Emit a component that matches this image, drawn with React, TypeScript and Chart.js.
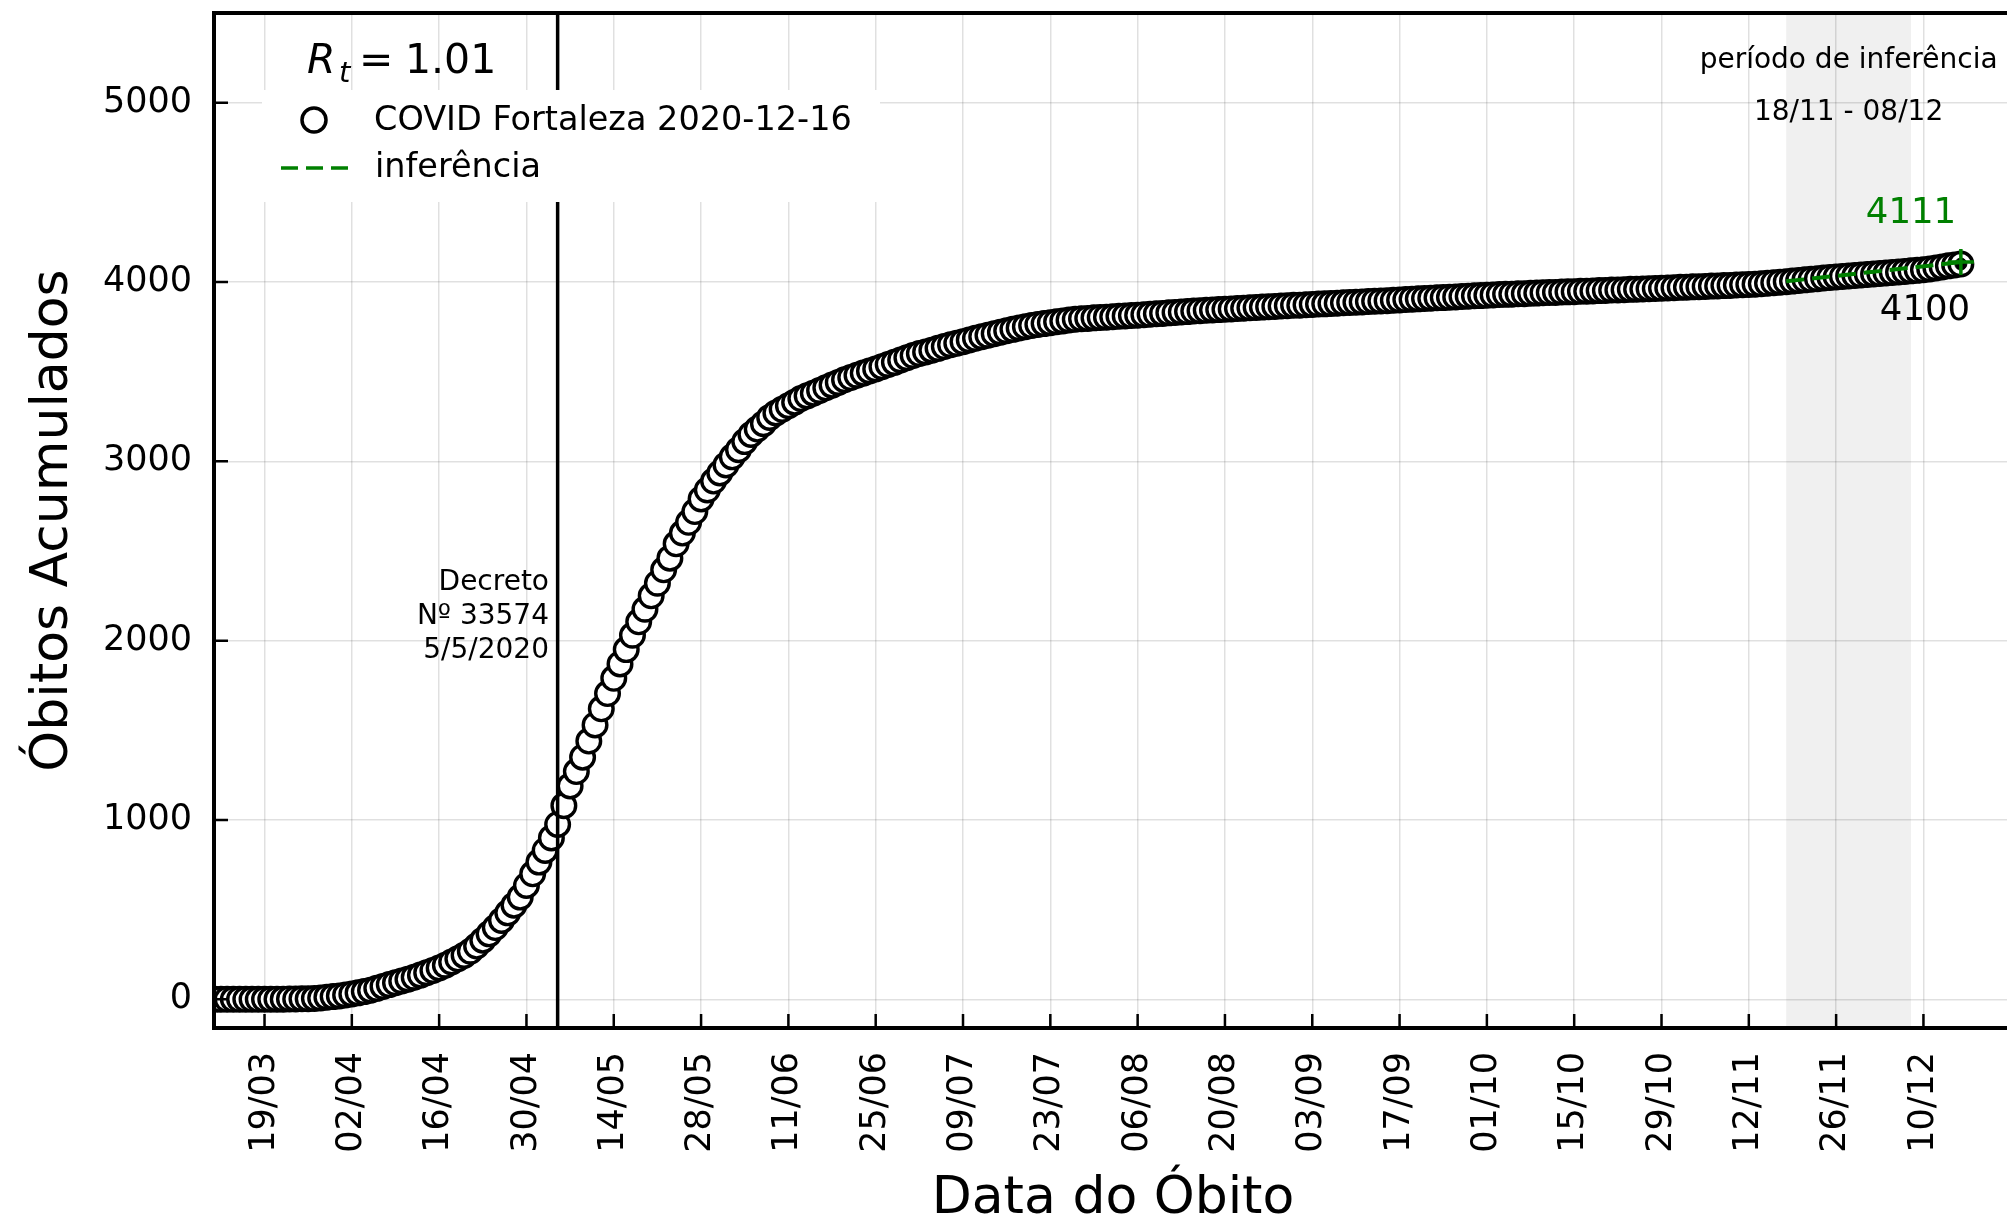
import React, { useEffect, useRef } from 'react';
import { Chart, registerables } from 'chart.js';

Chart.register(...registerables);

// Days are counted from 19/03/2020 (day 0)
const FIRST_DAY = -8;
const obitos: number[] = [
  0, 0, 0, 0, 0, 0, 0, 0,
  0, 0, 1, 1, 2, 2, 3, 3, 5, 7,
  12, 15, 19, 24, 30, 36, 43, 51, 61, 72,
  82, 92, 102, 112, 123, 135, 148, 161, 175, 190,
  208, 226, 245, 268, 297, 330, 365, 400, 440, 482,
  525, 570, 635, 700, 765, 830, 900, 975, 1080, 1190,
  1270, 1350, 1440, 1530, 1620, 1705, 1790, 1870, 1950, 2030,
  2105, 2175, 2250, 2320, 2395, 2460, 2540, 2600, 2660, 2720,
  2790, 2840, 2890, 2935, 2980, 3025, 3065, 3110, 3150, 3180,
  3210, 3245, 3270, 3290, 3310, 3330, 3350, 3365, 3380, 3395,
  3410, 3425, 3440, 3455, 3467, 3480, 3492, 3504, 3515, 3528,
  3540, 3552, 3565, 3578, 3590, 3601, 3610, 3620, 3630, 3640,
  3650, 3658, 3667, 3677, 3686, 3695, 3703, 3712, 3720, 3728,
  3736, 3744, 3751, 3757, 3763, 3768, 3773, 3778, 3783, 3788,
  3792, 3795, 3797, 3800, 3802, 3804, 3806, 3809, 3811, 3813,
  3815, 3818, 3820, 3823, 3825, 3828, 3830, 3833, 3835, 3838,
  3840, 3842, 3844, 3846, 3848, 3850, 3852, 3854, 3856, 3858,
  3860, 3862, 3864, 3866, 3868, 3870, 3871, 3873, 3875, 3877,
  3878, 3880, 3882, 3884, 3886, 3887, 3889, 3891, 3893, 3894,
  3896, 3898, 3900, 3902, 3904, 3906, 3908, 3910, 3912, 3913,
  3915, 3917, 3919, 3921, 3923, 3924, 3926, 3928, 3930, 3931,
  3932, 3934, 3935, 3937, 3938, 3940, 3941, 3942, 3944, 3945,
  3946, 3948, 3949, 3950, 3952, 3953, 3955, 3956, 3957, 3959,
  3960, 3961, 3963, 3964, 3965, 3967, 3968, 3970, 3971, 3973,
  3974, 3975, 3977, 3978, 3980, 3981, 3983, 3985, 3986, 3988,
  3990, 3993, 3996, 3999, 4002, 4005, 4009, 4012, 4015, 4018,
  4022, 4025, 4028, 4031, 4034, 4036, 4039, 4042, 4045, 4048,
  4050, 4053, 4056, 4059, 4062, 4065, 4068, 4073, 4078, 4084,
  4090, 4095, 4100,
];

const inferenceDays = [244, 251, 258, 265, 272];
const inferenceValues = [4004, 4030, 4057, 4084, 4111];

const lastDay = 272;
const lastValue = 4100;
const lastInference = 4111;

const tickDays = [0, 14, 28, 42, 56, 70, 84, 98, 112, 126, 140, 154, 168, 182, 196, 210, 224, 238, 252, 266];
const tickLabels = ['19/03', '02/04', '16/04', '30/04', '14/05', '28/05', '11/06', '25/06', '09/07', '23/07',
  '06/08', '20/08', '03/09', '17/09', '01/10', '15/10', '29/10', '12/11', '26/11', '10/12'];
const yTicks = [0, 1000, 2000, 3000, 4000, 5000];

const decreeDay = 47; // 05/05
const shadeStart = 244; // 18/11
const shadeEnd = 264; // 08/12

const X_MIN = -8.1;
const X_MAX = 280.2;
const Y_MIN = -160;
const Y_MAX = 5500;

const FONT = '"DejaVu Sans", "Noto Sans", sans-serif';

const overlayPlugin = {
  id: 'overlay',
  beforeDraw(chart: any) {
    const { ctx, chartArea: a, scales } = chart;
    const x = scales.x;
    ctx.save();
    const x0 = x.getPixelForValue(shadeStart);
    const x1 = x.getPixelForValue(shadeEnd);
    ctx.fillStyle = '#f0f0f0';
    ctx.fillRect(x0, a.top, x1 - x0, a.bottom - a.top);
    ctx.restore();
  },
  afterDatasetsDraw(chart: any) {
    const { ctx, chartArea: a, scales } = chart;
    const x = scales.x;
    const y = scales.y;
    ctx.save();

    // decree line
    const xd = x.getPixelForValue(decreeDay);
    ctx.strokeStyle = '#000';
    ctx.lineWidth = 3.5;
    ctx.beginPath();
    ctx.moveTo(xd, a.top);
    ctx.lineTo(xd, a.bottom);
    ctx.stroke();

    // spines
    ctx.lineWidth = 4;
    ctx.beginPath();
    ctx.moveTo(a.left, a.top);
    ctx.lineTo(a.right + 5, a.top);
    ctx.moveTo(a.left, a.top - 2);
    ctx.lineTo(a.left, a.bottom + 2);
    ctx.moveTo(a.left, a.bottom);
    ctx.lineTo(a.right + 5, a.bottom);
    ctx.stroke();

    // inward ticks
    ctx.lineWidth = 2.5;
    ctx.beginPath();
    tickDays.forEach((d) => {
      const px = x.getPixelForValue(d);
      ctx.moveTo(px, a.bottom);
      ctx.lineTo(px, a.bottom - 14);
    });
    yTicks.forEach((v) => {
      const py = y.getPixelForValue(v);
      ctx.moveTo(a.left, py);
      ctx.lineTo(a.left + 14, py);
    });
    ctx.stroke();

    // legend box
    ctx.fillStyle = '#fff';
    ctx.fillRect(262, 90, 618, 112);
    // legend marker
    ctx.beginPath();
    ctx.arc(314, 120, 12, 0, Math.PI * 2);
    ctx.fillStyle = '#fff';
    ctx.fill();
    ctx.lineWidth = 3.5;
    ctx.strokeStyle = '#000';
    ctx.stroke();
    // legend dashed line
    ctx.setLineDash([17, 8]);
    ctx.strokeStyle = 'green';
    ctx.lineWidth = 3.5;
    ctx.beginPath();
    ctx.moveTo(281, 168);
    ctx.lineTo(348, 168);
    ctx.stroke();
    ctx.setLineDash([]);
    ctx.fillStyle = '#000';
    ctx.font = `33.5px ${FONT}`;
    ctx.textAlign = 'left';
    ctx.textBaseline = 'middle';
    ctx.fillText('COVID Fortaleza 2020-12-16', 374, 121);
    ctx.fillText('inferência', 375, 168);

    // R_t text
    ctx.textBaseline = 'alphabetic';
    ctx.font = `italic 41px ${FONT}`;
    ctx.fillText('R', 307, 73);
    ctx.font = `italic 29px ${FONT}`;
    ctx.fillText('t', 339, 82);
    ctx.font = `41px ${FONT}`;
    ctx.fillText('=', 359, 73);
    ctx.fillText('1.01', 405, 73);

    // decree annotation
    ctx.font = `28px ${FONT}`;
    ctx.textAlign = 'right';
    ctx.fillText('Decreto', 549, 590);
    ctx.fillText('Nº 33574', 549, 624);
    ctx.fillText('5/5/2020', 549, 658);

    // inference period
    const xc = (x.getPixelForValue(shadeStart) + x.getPixelForValue(shadeEnd)) / 2;
    ctx.textAlign = 'center';
    ctx.fillText('período de inferência', xc, 68);
    ctx.fillText('18/11 - 08/12', xc, 120);

    // end values
    ctx.font = `35.5px ${FONT}`;
    ctx.fillStyle = 'green';
    ctx.fillText(String(lastInference), 1911, 223);
    ctx.fillStyle = '#000';
    ctx.fillText(String(lastValue), 1925, 320);

    // axis titles
    ctx.font = `52px ${FONT}`;
    ctx.textAlign = 'center';
    ctx.fillText('Data do Óbito', 1113, 1213);
    ctx.save();
    ctx.translate(67, (a.top + a.bottom) / 2);
    ctx.rotate(-Math.PI / 2);
    ctx.fillText('Óbitos Acumulados', 0, 0);
    ctx.restore();

    ctx.restore();
  },
};

export default function App() {
  const ref = useRef<HTMLCanvasElement>(null);
  useEffect(() => {
    document.body.style.margin = '0';
    const canvas = ref.current;
    if (!canvas) return;
    const dataPts = obitos.map((v, i) => ({ x: FIRST_DAY + i, y: v }));
    const infPts = inferenceDays.map((d, i) => ({ x: d, y: inferenceValues[i] }));
    const chart = new Chart(canvas, {
      type: 'scatter',
      data: {
        datasets: [
          {
            label: 'cross',
            data: [{ x: lastDay, y: lastInference }],
            pointStyle: 'cross',
            pointRadius: 13,
            borderColor: 'green',
            borderWidth: 3.5,
            order: 0,
          } as any,
          {
            label: 'inferência',
            data: infPts,
            showLine: true,
            borderColor: 'green',
            borderWidth: 4,
            borderDash: [18, 8],
            pointRadius: 0,
            order: 1,
          } as any,
          {
            label: 'last',
            data: [{ x: lastDay, y: lastValue }],
            pointStyle: 'circle',
            pointRadius: 6,
            backgroundColor: '#000',
            borderColor: '#000',
            borderWidth: 1,
            order: 2,
          } as any,
          {
            label: 'COVID Fortaleza 2020-12-16',
            data: dataPts,
            showLine: false,
            pointStyle: 'circle',
            pointRadius: 11.8,
            backgroundColor: '#fff',
            borderColor: '#000',
            borderWidth: 3.4,
            order: 3,
            clip: 0,
          } as any,
        ],
      },
      options: {
        responsive: false,
        animation: false,
        devicePixelRatio: 1,
        layout: { autoPadding: false, padding: { top: 13, right: 4, left: 0, bottom: 0 } },
        plugins: {
          legend: { display: false },
          tooltip: { enabled: false },
        },
        scales: {
          x: {
            type: 'linear',
            min: X_MIN,
            max: X_MAX,
            afterBuildTicks: (scale: any) => {
              scale.ticks = tickDays.map((d) => ({ value: d }));
            },
            afterFit: (scale: any) => {
              scale.height = 192;
              scale.paddingLeft = 0;
              scale.paddingRight = 0;
              scale.paddingTop = 0;
              scale.paddingBottom = 0;
            },
            grid: {
              color: 'rgba(0,0,0,0.12)',
              lineWidth: 1.5,
              drawTicks: false,
            },
            border: { display: false },
            ticks: {
              autoSkip: false,
              minRotation: 90,
              maxRotation: 90,
              padding: 24,
              color: '#000',
              font: { family: FONT, size: 35 },
              callback: (v: any) => {
                const idx = tickDays.indexOf(Number(v));
                return idx >= 0 ? tickLabels[idx] : '';
              },
            },
          },
          y: {
            type: 'linear',
            min: Y_MIN,
            max: Y_MAX,
            afterBuildTicks: (scale: any) => {
              scale.ticks = yTicks.map((v) => ({ value: v }));
            },
            afterFit: (scale: any) => {
              scale.width = 214;
              scale.paddingLeft = 0;
              scale.paddingRight = 0;
              scale.paddingTop = 0;
              scale.paddingBottom = 0;
            },
            grid: {
              color: 'rgba(0,0,0,0.12)',
              lineWidth: 1.5,
              drawTicks: false,
            },
            border: { display: false },
            ticks: {
              padding: 22,
              color: '#000',
              font: { family: FONT, size: 35 },
              callback: (v: any) => String(v),
            },
          },
        },
      },
      plugins: [overlayPlugin],
    });
    return () => chart.destroy();
  }, []);
  return (
    <div style={{ width: 2007, height: 1220, overflow: 'hidden', background: '#fff' }}>
      <canvas ref={ref} width={2016} height={1220} style={{ display: 'block', width: 2016, height: 1220 }} />
    </div>
  );
}
